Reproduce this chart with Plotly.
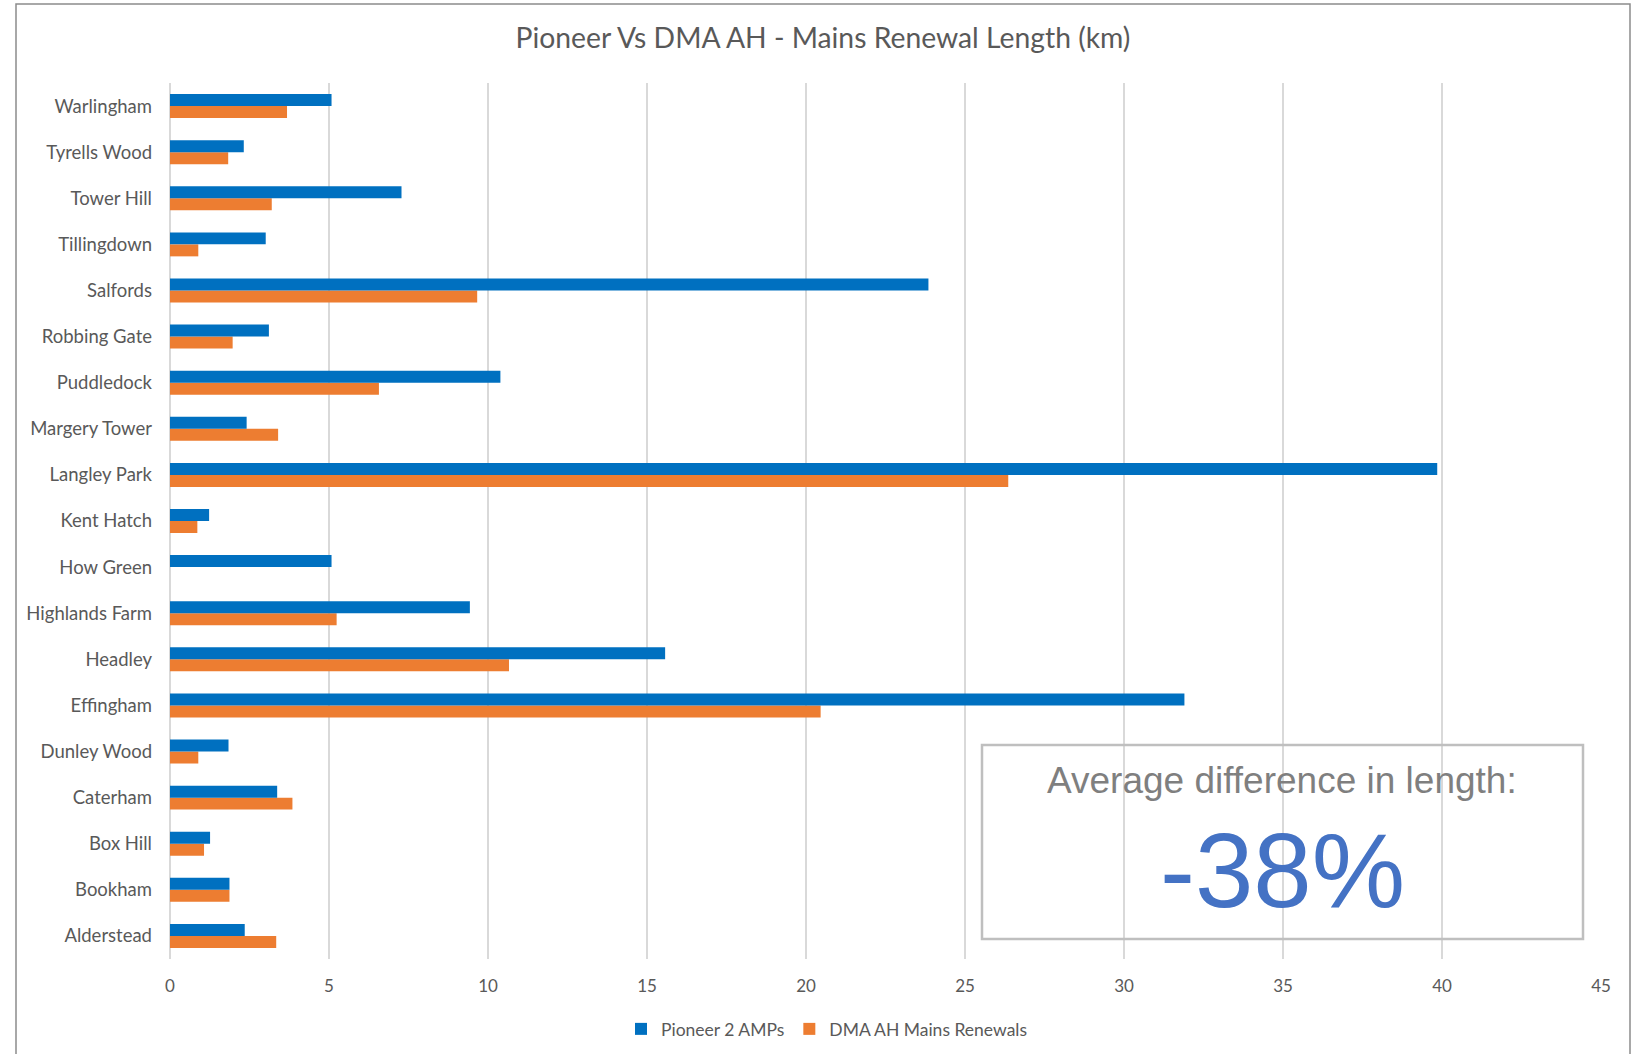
import plotly.graph_objects as go

categories = ["Alderstead", "Bookham", "Box Hill", "Caterham", "Dunley Wood", "Effingham",
              "Headley", "Highlands Farm", "How Green", "Kent Hatch", "Langley Park",
              "Margery Tower", "Puddledock", "Robbing Gate", "Salfords", "Tillingdown",
              "Tower Hill", "Tyrells Wood", "Warlingham"]
pioneer = [2.35, 1.87, 1.26, 3.37, 1.84, 31.9, 15.57, 9.43, 5.08, 1.23, 39.85,
           2.41, 10.39, 3.11, 23.85, 3.01, 7.28, 2.32, 5.08]
dma = [3.34, 1.87, 1.07, 3.85, 0.89, 20.46, 10.66, 5.24, 0.0, 0.86, 26.36,
       3.4, 6.57, 1.97, 9.66, 0.89, 3.2, 1.83, 3.68]
x_ticks = [0, 5, 10, 15, 20, 25, 30, 35, 40, 45]

W, H = 1642, 1054
L, R, T, B = 170, 1601, 83, 959

def px(x):
    return (x - L) / (R - L)

def py(y):
    return (B - y) / (B - T)

fig = go.Figure()
fig.add_trace(go.Bar(y=categories, x=dma, orientation="h", name="DMA AH Mains Renewals",
                     marker=dict(color="#ED7D31", line=dict(width=0)), legendrank=2))
fig.add_trace(go.Bar(y=categories, x=pioneer, orientation="h", name="Pioneer 2 AMPs",
                     marker=dict(color="#0070C0", line=dict(width=0)), legendrank=1))

fig.update_layout(
    width=W, height=H,
    margin=dict(l=L, r=W - R, t=T, b=H - B, autoexpand=False),
    paper_bgcolor="white", plot_bgcolor="white",
    barmode="group", bargap=0.48, bargroupgap=0,
    font=dict(family="Lato", color="#595959"),
    title=dict(text="Pioneer Vs DMA AH - Mains Renewal Length (km)", xref="container", x=823 / W,
               xanchor="center", y=1 - 38 / H, yanchor="middle",
               font=dict(size=28.3, color="#595959", family="Lato")),
    xaxis=dict(range=[0, 45], tickvals=x_ticks, showgrid=True, gridcolor="#D9D9D9", gridwidth=1.5,
               zeroline=True, zerolinecolor="#D9D9D9", zerolinewidth=1.5, showline=False,
               tickfont=dict(size=17, color="#595959"), ticks="", ticklabelstandoff=15),
    yaxis=dict(categoryorder="array", categoryarray=categories, showgrid=False, showline=False,
               tickfont=dict(size=18.5, color="#595959"), ticks="", ticklabelstandoff=17),
    legend=dict(orientation="h", x=px(827), xanchor="center", y=py(1029), yanchor="middle",
                font=dict(size=17.5, color="#595959"), itemwidth=30, traceorder="normal"),
    showlegend=True,
)

# outer chart border
fig.add_shape(type="rect", xref="paper", yref="paper", x0=px(16), x1=px(1630), y0=py(1070), y1=py(4),
              line=dict(color="#8C8C8C", width=1.5), fillcolor="rgba(0,0,0,0)", layer="below")

# annotation box
fig.add_shape(type="rect", xref="paper", yref="paper", x0=px(982), x1=px(1583), y0=py(939), y1=py(745),
              line=dict(color="#BFBFBF", width=2.5), fillcolor="rgba(0,0,0,0)")
fig.add_annotation(xref="paper", yref="paper", x=px(1282), y=py(780), text="Average difference in length:",
                   showarrow=False, xanchor="center", yanchor="middle",
                   font=dict(family="Liberation Sans", size=37, color="#7F7F7F"))
fig.add_annotation(xref="paper", yref="paper", x=px(1282), y=py(870), text="-38%",
                   showarrow=False, xanchor="center", yanchor="middle",
                   font=dict(family="Liberation Sans", size=105, color="#4472C4"))

fig.write_html("out.html")
